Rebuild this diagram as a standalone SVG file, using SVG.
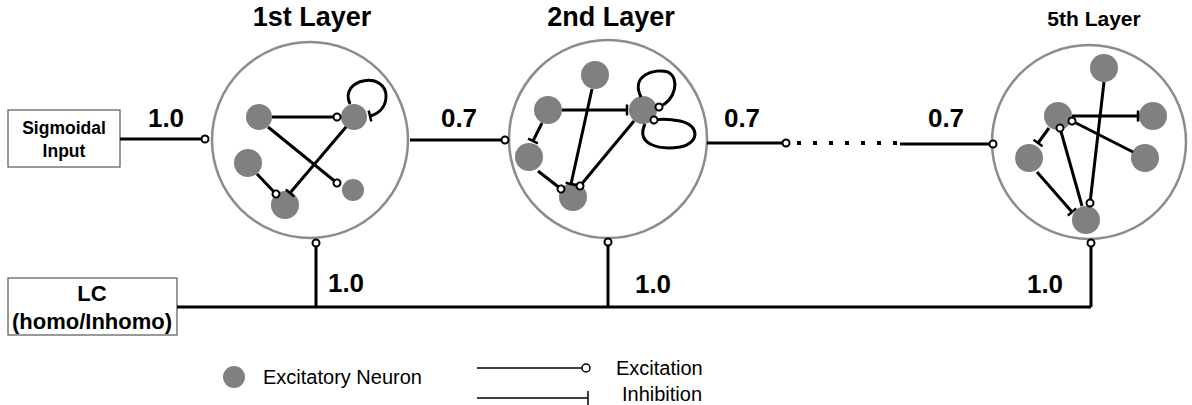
<svg xmlns="http://www.w3.org/2000/svg" width="1192" height="405" viewBox="0 0 1192 405">
<style>
.layer{fill:#fff;stroke:#8c8c8c;stroke-width:2.5}
.n{fill:#808080}
.e{fill:none;stroke:#000;stroke-width:3}
.ex{marker-end:url(#exc)}
.in{marker-end:url(#inh)}
.t{font-family:"Liberation Sans",Arial,sans-serif;fill:#000}
.b{font-weight:bold}
.box{fill:#fff;stroke:#555;stroke-width:1.2}
</style>
<defs>
<marker id="exc" viewBox="-6 -6 12 12" markerWidth="12" markerHeight="12" markerUnits="userSpaceOnUse" orient="auto"><circle r="3.5" fill="#fff" stroke="#000" stroke-width="2"/></marker>
<marker id="inh" viewBox="-6 -6 12 12" markerWidth="12" markerHeight="12" markerUnits="userSpaceOnUse" orient="auto"><line x1="0" y1="-5.5" x2="0" y2="5.5" stroke="#000" stroke-width="2.5"/></marker>
</defs>
<rect width="1192" height="405" fill="#fff"/>

<g id="titles">
<text class="t b" x="312" y="26" font-size="27" text-anchor="middle">1st Layer</text>
<text class="t b" x="611" y="26" font-size="27" text-anchor="middle">2nd Layer</text>
<text class="t b" x="1094" y="26" font-size="21" text-anchor="middle">5th Layer</text>
</g>

<g id="sigmoidal-input">
<rect class="box" x="8" y="110" width="112" height="57"/>
<text class="t b" x="64" y="134" font-size="17.5" text-anchor="middle">Sigmoidal</text>
<text class="t b" x="64" y="157" font-size="17.5" text-anchor="middle">Input</text>
</g>

<g id="lc">
<rect class="box" x="8" y="278" width="169" height="57"/>
<text class="t b" x="92" y="301" font-size="22" text-anchor="middle">LC</text>
<text class="t b" x="92" y="329" font-size="22" text-anchor="middle">(homo/Inhomo)</text>
</g>

<g id="layer1">
<circle class="layer" cx="310" cy="140" r="98"/>
<circle class="n" cx="259" cy="117" r="13"/>
<circle class="n" cx="354" cy="117" r="13"/>
<circle class="n" cx="248" cy="163" r="14"/>
<circle class="n" cx="285" cy="205" r="14"/>
<circle class="n" cx="353" cy="190" r="11"/>
<line class="e ex" x1="272" y1="117" x2="337" y2="117"/>
<path class="e in" d="M350 104 C338 78 388 70 386 98 C385 108 378 114 370 116"/>
<line class="e ex" x1="268" y1="127" x2="337" y2="183"/>
<line class="e in" x1="346" y1="127" x2="290" y2="193"/>
<line class="e ex" x1="257" y1="174" x2="276" y2="194"/>
</g>

<g id="layer2">
<circle class="layer" cx="608" cy="139" r="99"/>
<circle class="n" cx="595" cy="75" r="14"/>
<circle class="n" cx="548" cy="110" r="14"/>
<circle class="n" cx="643" cy="110" r="14"/>
<circle class="n" cx="529" cy="157" r="14"/>
<circle class="n" cx="573" cy="197" r="14"/>
<line class="e in" x1="562" y1="110" x2="627" y2="110"/>
<line class="e in" x1="592" y1="89" x2="571" y2="184"/>
<line class="e ex" x1="634" y1="121" x2="580" y2="186"/>
<line class="e in" x1="542" y1="123" x2="533" y2="141"/>
<line class="e ex" x1="538" y1="171" x2="561" y2="189"/>
<path class="e ex" d="M641 97 C630 75 655 68 668 72 C680 78 676 100 659 107"/>
<path class="e ex" d="M645 124 C635 145 660 150 680 147 C700 143 700 125 680 121 C670 119 660 119 654 120"/>
</g>

<g id="layer5">
<circle class="layer" cx="1089" cy="142" r="97"/>
<circle class="n" cx="1104" cy="68" r="14"/>
<circle class="n" cx="1058" cy="116" r="14"/>
<circle class="n" cx="1153" cy="116" r="14"/>
<circle class="n" cx="1029" cy="158" r="14"/>
<circle class="n" cx="1145" cy="158" r="14"/>
<circle class="n" cx="1086" cy="220" r="14"/>
<line class="e in" x1="1072" y1="116" x2="1138" y2="116"/>
<line class="e ex" x1="1133" y1="152" x2="1072" y2="121"/>
<line class="e ex" x1="1104" y1="82" x2="1090" y2="203"/>
<line class="e ex" x1="1082" y1="206" x2="1060" y2="128"/>
<line class="e in" x1="1049" y1="128" x2="1038" y2="143"/>
<line class="e in" x1="1037" y1="172" x2="1072" y2="212"/>
</g>

<g id="connectors">
<line class="e ex" x1="120" y1="139" x2="205" y2="139"/>
<line class="e ex" x1="410" y1="140" x2="505" y2="140"/>
<line class="e ex" x1="707" y1="143" x2="786" y2="143"/>
<line x1="797" y1="143" x2="897" y2="143" stroke="#000" stroke-width="4" stroke-dasharray="4 12"/>
<line class="e ex" x1="900" y1="144" x2="993" y2="144"/>
<polyline class="e" points="177,307 1091,307"/>
<line class="e ex" x1="316" y1="307" x2="316" y2="243"/>
<line class="e ex" x1="608" y1="307" x2="608" y2="242"/>
<line class="e ex" x1="1091" y1="307" x2="1091" y2="243"/>
</g>

<g id="labels">
<text class="t b" x="166" y="127" font-size="26" text-anchor="middle">1.0</text>
<text class="t b" x="459" y="127" font-size="26" text-anchor="middle">0.7</text>
<text class="t b" x="742" y="127" font-size="26" text-anchor="middle">0.7</text>
<text class="t b" x="946" y="127" font-size="26" text-anchor="middle">0.7</text>
<text class="t b" x="346" y="292" font-size="26" text-anchor="middle">1.0</text>
<text class="t b" x="653" y="293" font-size="26" text-anchor="middle">1.0</text>
<text class="t b" x="1045" y="293" font-size="26" text-anchor="middle">1.0</text>
</g>

<g id="legend">
<circle class="n" cx="234" cy="377" r="11"/>
<text class="t" x="263" y="384" font-size="20">Excitatory Neuron</text>
<line x1="477" y1="368" x2="582" y2="368" stroke="#000" stroke-width="1.5"/>
<circle cx="586" cy="368" r="4" fill="#fff" stroke="#000" stroke-width="1.5"/>
<text class="t" x="616" y="375" font-size="20">Excitation</text>
<line x1="477" y1="398" x2="588" y2="398" stroke="#000" stroke-width="1.5"/>
<line x1="588" y1="391" x2="588" y2="405" stroke="#000" stroke-width="1.5"/>
<text class="t" x="622" y="401" font-size="20">Inhibition</text>
</g>
</svg>
